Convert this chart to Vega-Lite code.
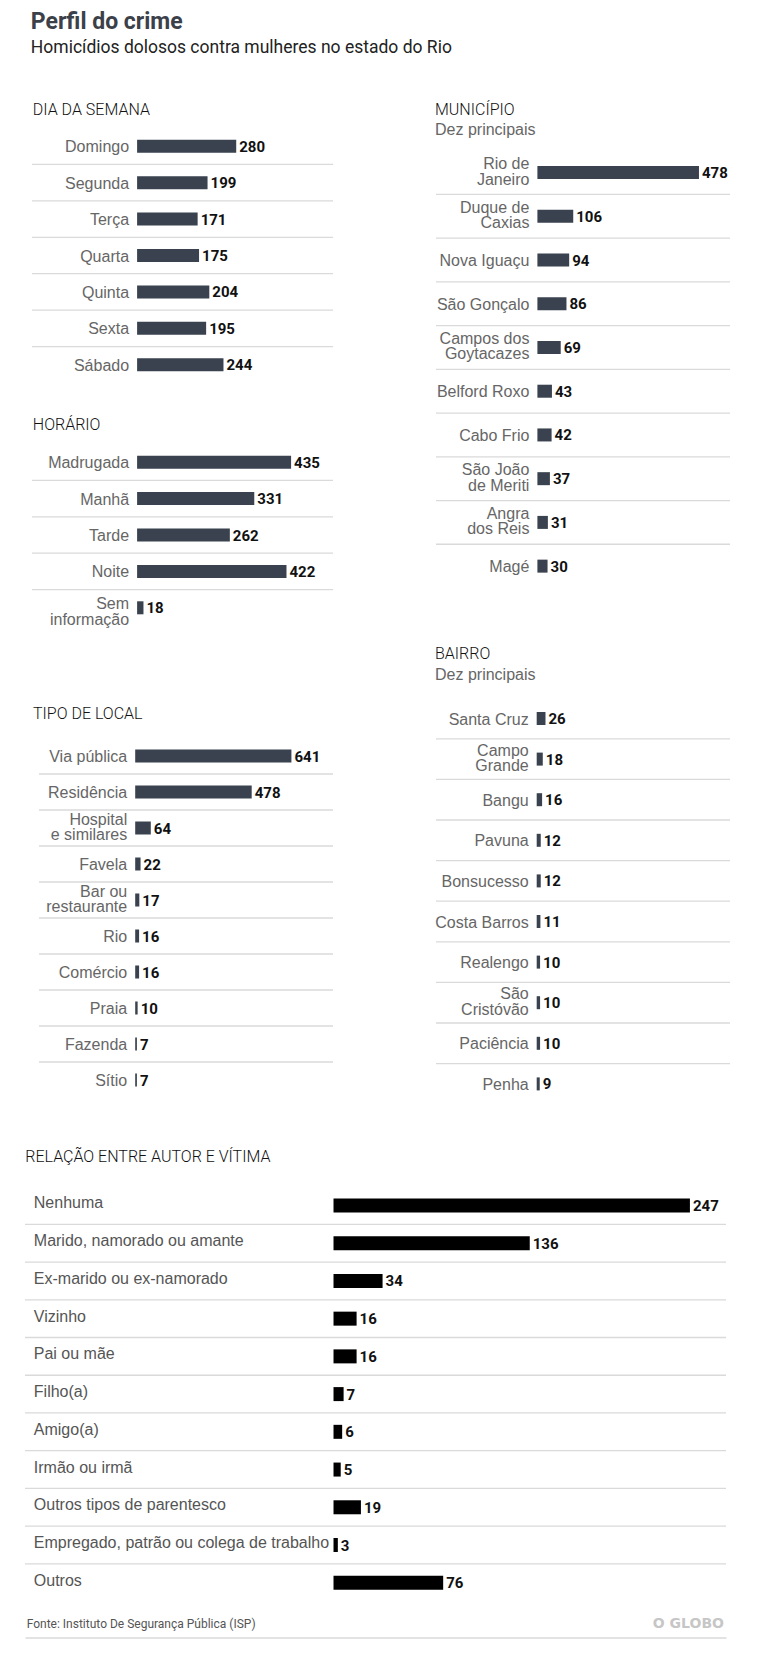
{
  "$schema": "https://vega.github.io/schema/vega-lite/v6.json",
  "background": "white",
  "padding": {"left": 24, "top": 11, "right": 38, "bottom": 16},
  "title": {
    "text": "Perfil do crime",
    "subtitle": "Homicídios dolosos contra mulheres no estado do Rio",
    "anchor": "start", "frame": "bounds", "baseline": "top", "dx": 6.5,
    "font": "Roboto", "fontSize": 23, "fontWeight": "bold", "color": "#3b4049",
    "subtitleFont": "Roboto", "subtitleFontSize": 17.5, "subtitleColor": "#222222",
    "subtitlePadding": 5, "offset": 45.5
  },
  "datasets": {
    "dia": [
      {"label": "Domingo", "valor": 280}, {"label": "Segunda", "valor": 199}, {"label": "Terça", "valor": 171},
      {"label": "Quarta", "valor": 175}, {"label": "Quinta", "valor": 204}, {"label": "Sexta", "valor": 195},
      {"label": "Sábado", "valor": 244}
    ],
    "horario": [
      {"label": "Madrugada", "valor": 435}, {"label": "Manhã", "valor": 331}, {"label": "Tarde", "valor": 262},
      {"label": "Noite", "valor": 422}, {"label": "Sem\ninformação", "valor": 18}
    ],
    "local": [
      {"label": "Via pública", "valor": 641}, {"label": "Residência", "valor": 478}, {"label": "Hospital\ne similares", "valor": 64},
      {"label": "Favela", "valor": 22}, {"label": "Bar ou\nrestaurante", "valor": 17}, {"label": "Rio", "valor": 16},
      {"label": "Comércio", "valor": 16}, {"label": "Praia", "valor": 10}, {"label": "Fazenda", "valor": 7}, {"label": "Sítio", "valor": 7}
    ],
    "municipio": [
      {"label": "Rio de\nJaneiro", "valor": 478}, {"label": "Duque de\nCaxias", "valor": 106}, {"label": "Nova Iguaçu", "valor": 94},
      {"label": "São Gonçalo", "valor": 86}, {"label": "Campos dos\nGoytacazes", "valor": 69}, {"label": "Belford Roxo", "valor": 43},
      {"label": "Cabo Frio", "valor": 42}, {"label": "São João\nde Meriti", "valor": 37}, {"label": "Angra\ndos Reis", "valor": 31},
      {"label": "Magé", "valor": 30}
    ],
    "bairro": [
      {"label": "Santa Cruz", "valor": 26}, {"label": "Campo\nGrande", "valor": 18}, {"label": "Bangu", "valor": 16},
      {"label": "Pavuna", "valor": 12}, {"label": "Bonsucesso", "valor": 12}, {"label": "Costa Barros", "valor": 11},
      {"label": "Realengo", "valor": 10}, {"label": "São\nCristóvão", "valor": 10}, {"label": "Paciência", "valor": 10},
      {"label": "Penha", "valor": 9}
    ],
    "relacao": [
      {"label": "Nenhuma", "valor": 247}, {"label": "Marido, namorado ou amante", "valor": 136},
      {"label": "Ex-marido ou ex-namorado", "valor": 34}, {"label": "Vizinho", "valor": 16}, {"label": "Pai ou mãe", "valor": 16},
      {"label": "Filho(a)", "valor": 7}, {"label": "Amigo(a)", "valor": 6}, {"label": "Irmão ou irmã", "valor": 5},
      {"label": "Outros tipos de parentesco", "valor": 19}, {"label": "Empregado, patrão ou colega de trabalho", "valor": 3},
      {"label": "Outros", "valor": 76}
    ],
    "rodape": [
      {"lado": "esquerda", "texto": "Fonte: Instituto De Segurança Pública (ISP)"},
      {"lado": "direita", "texto": "O GLOBO"}
    ]
  },
  "concat": [
    {
      "concat": [
        {
          "concat": [
            {"width": 1, "height": 1, "data": {"values": []}, "mark": {"type": "point", "opacity": 0}},
            {
              "concat": [
                {
                  "concat": [
                    {
                      "width": 301, "height": 255,
                      "title": {"text": "DIA DA SEMANA", "anchor": "start", "frame": "group", "baseline": "top", "dx": 0.8, "offset": 9.8,
                        "font": "Roboto", "fontSize": 16, "fontWeight": 300, "color": "#111111"},
                      "data": {"name": "dia"},
                      "encoding": {"y": {"field": "label", "type": "nominal", "sort": null, "scale": {"paddingInner": 0, "paddingOuter": 0}, "axis": null}},
                      "layer": [
                        {"transform": [{"filter": "datum.label != 'Sábado'"}],
                         "mark": {"type": "rule", "color": "#dadada", "strokeWidth": 1.3},
                         "encoding": {"y": {"field": "label", "type": "nominal", "sort": null, "bandPosition": 1, "axis": null}}},
                        {"mark": {"type": "bar", "height": 13, "color": "#39424e"},
                         "encoding": {"x": {"field": "valor", "type": "quantitative", "scale": {"domain": [-296.9, 553.4], "nice": false, "zero": false}, "axis": null}}},
                        {"mark": {"type": "text", "align": "right", "baseline": "middle", "dx": -8, "dy": 1, "font": "Liberation Sans", "fontSize": 16, "color": "#666666"},
                         "encoding": {"x": {"datum": 0, "type": "quantitative", "scale": {"domain": [-296.9, 553.4], "nice": false, "zero": false}, "axis": null}, "text": {"field": "label"}}},
                        {"mark": {"type": "text", "align": "left", "baseline": "middle", "dx": 3, "dy": 0.5, "font": "Roboto", "fontWeight": "bold", "fontSize": 15, "color": "#111111"},
                         "encoding": {"x": {"field": "valor", "type": "quantitative", "scale": {"domain": [-296.9, 553.4], "nice": false, "zero": false}, "axis": null}, "text": {"field": "valor", "type": "quantitative"}}}
                      ]
                    },
                    {
                      "width": 301, "height": 182,
                      "title": {"text": "HORÁRIO", "anchor": "start", "frame": "group", "baseline": "top", "dx": 0.8, "offset": 11.25,
                        "font": "Roboto", "fontSize": 16, "fontWeight": 300, "color": "#111111"},
                      "data": {"name": "horario"},
                      "encoding": {"y": {"field": "label", "type": "nominal", "sort": null, "scale": {"paddingInner": 0, "paddingOuter": 0}, "axis": null}},
                      "layer": [
                        {"transform": [{"filter": "indexof(datum.label, 'Sem') < 0"}],
                         "mark": {"type": "rule", "color": "#dadada", "strokeWidth": 1.3},
                         "encoding": {"y": {"field": "label", "type": "nominal", "sort": null, "bandPosition": 1, "axis": null}}},
                        {"mark": {"type": "bar", "height": 13, "color": "#39424e"},
                         "encoding": {"x": {"field": "valor", "type": "quantitative", "scale": {"domain": [-296.9, 553.4], "nice": false, "zero": false}, "axis": null}}},
                        {"transform": [{"filter": "indexof(datum.label, '\\n') < 0"}],
                         "mark": {"type": "text", "align": "right", "baseline": "middle", "dx": -8, "dy": 1, "font": "Liberation Sans", "fontSize": 16, "color": "#666666"},
                         "encoding": {"x": {"datum": 0, "type": "quantitative", "scale": {"domain": [-296.9, 553.4], "nice": false, "zero": false}, "axis": null}, "text": {"field": "label"}}},
                        {"transform": [{"filter": "indexof(datum.label, '\\n') >= 0"}],
                         "mark": {"type": "text", "align": "right", "baseline": "middle", "dx": -8, "dy": -3.5, "font": "Liberation Sans", "fontSize": 16, "color": "#666666", "lineBreak": "\n", "lineHeight": 15.5},
                         "encoding": {"x": {"datum": 0, "type": "quantitative", "scale": {"domain": [-296.9, 553.4], "nice": false, "zero": false}, "axis": null}, "text": {"field": "label"}}},
                        {"mark": {"type": "text", "align": "left", "baseline": "middle", "dx": 3, "dy": 0.5, "font": "Roboto", "fontWeight": "bold", "fontSize": 15, "color": "#111111"},
                         "encoding": {"x": {"field": "valor", "type": "quantitative", "scale": {"domain": [-296.9, 553.4], "nice": false, "zero": false}, "axis": null}, "text": {"field": "valor", "type": "quantitative"}}}
                      ]
                    }
                  ],
                  "columns": 1, "spacing": 33
                },
                {
                  "concat": [
                    {"width": 1, "height": 1, "data": {"values": []}, "mark": {"type": "point", "opacity": 0}},
                    {
                      "width": 294, "height": 360,
                      "title": {"text": "TIPO DE LOCAL", "anchor": "start", "frame": "group", "baseline": "top", "dx": -6, "offset": 15.6,
                        "font": "Roboto", "fontSize": 16, "fontWeight": 300, "color": "#111111"},
                      "data": {"name": "local"},
                      "encoding": {"y": {"field": "label", "type": "nominal", "sort": null, "scale": {"paddingInner": 0, "paddingOuter": 0}, "axis": null}},
                      "layer": [
                        {"transform": [{"filter": "datum.label != 'Sítio'"}],
                         "mark": {"type": "rule", "color": "#dadada", "strokeWidth": 1.3},
                         "encoding": {"y": {"field": "label", "type": "nominal", "sort": null, "bandPosition": 1, "axis": null}}},
                        {"mark": {"type": "bar", "height": 13, "color": "#39424e"},
                         "encoding": {"x": {"field": "valor", "type": "quantitative", "scale": {"domain": [-394.7, 811.6], "nice": false, "zero": false}, "axis": null}}},
                        {"transform": [{"filter": "indexof(datum.label, '\\n') < 0"}],
                         "mark": {"type": "text", "align": "right", "baseline": "middle", "dx": -8, "dy": 1, "font": "Liberation Sans", "fontSize": 16, "color": "#666666"},
                         "encoding": {"x": {"datum": 0, "type": "quantitative", "scale": {"domain": [-394.7, 811.6], "nice": false, "zero": false}, "axis": null}, "text": {"field": "label"}}},
                        {"transform": [{"filter": "indexof(datum.label, '\\n') >= 0"}],
                         "mark": {"type": "text", "align": "right", "baseline": "middle", "dx": -8, "dy": -8.5, "font": "Liberation Sans", "fontSize": 16, "color": "#666666", "lineBreak": "\n", "lineHeight": 15.5},
                         "encoding": {"x": {"datum": 0, "type": "quantitative", "scale": {"domain": [-394.7, 811.6], "nice": false, "zero": false}, "axis": null}, "text": {"field": "label"}}},
                        {"mark": {"type": "text", "align": "left", "baseline": "middle", "dx": 3, "dy": 0.5, "font": "Roboto", "fontWeight": "bold", "fontSize": 15, "color": "#111111"},
                         "encoding": {"x": {"field": "valor", "type": "quantitative", "scale": {"domain": [-394.7, 811.6], "nice": false, "zero": false}, "axis": null}, "text": {"field": "valor", "type": "quantitative"}}}
                      ]
                    }
                  ],
                  "columns": 2, "spacing": 0
                }
              ],
              "columns": 1, "spacing": 78
            }
          ],
          "columns": 2, "spacing": 5
        },
        {
          "concat": [
            {
              "width": 294, "height": 460,
              "title": {"text": "MUNICÍPIO", "subtitle": "Dez principais", "anchor": "start", "frame": "group", "baseline": "top", "dx": -1, "offset": -9.5,
                "font": "Roboto", "fontSize": 16, "fontWeight": 300, "color": "#111111",
                "subtitleFont": "Liberation Sans", "subtitleFontSize": 16, "subtitleColor": "#666666", "subtitlePadding": 3.3},
              "data": {"name": "municipio"},
              "encoding": {"y": {"field": "label", "type": "nominal", "sort": null, "scale": {"paddingInner": 0, "paddingOuter": 0.2596, "align": 1}, "axis": null}},
              "layer": [
                {"transform": [{"filter": "datum.label != 'Magé'"}],
                 "mark": {"type": "rule", "color": "#dadada", "strokeWidth": 1.3},
                 "encoding": {"y": {"field": "label", "type": "nominal", "sort": null, "bandPosition": 1, "axis": null}}},
                {"mark": {"type": "bar", "height": 13, "color": "#39424e"},
                 "encoding": {"x": {"field": "valor", "type": "quantitative", "scale": {"domain": [-300, 569.8], "nice": false, "zero": false}, "axis": null}}},
                {"transform": [{"filter": "indexof(datum.label, '\\n') < 0"}],
                 "mark": {"type": "text", "align": "right", "baseline": "middle", "dx": -8, "dy": 1, "font": "Liberation Sans", "fontSize": 16, "color": "#666666"},
                 "encoding": {"x": {"datum": 0, "type": "quantitative", "scale": {"domain": [-300, 569.8], "nice": false, "zero": false}, "axis": null}, "text": {"field": "label"}}},
                {"transform": [{"filter": "indexof(datum.label, '\\n') >= 0"}],
                 "mark": {"type": "text", "align": "right", "baseline": "middle", "dx": -8, "dy": -8.5, "font": "Liberation Sans", "fontSize": 16, "color": "#666666", "lineBreak": "\n", "lineHeight": 15.5},
                 "encoding": {"x": {"datum": 0, "type": "quantitative", "scale": {"domain": [-300, 569.8], "nice": false, "zero": false}, "axis": null}, "text": {"field": "label"}}},
                {"mark": {"type": "text", "align": "left", "baseline": "middle", "dx": 3, "dy": 0.5, "font": "Roboto", "fontWeight": "bold", "fontSize": 15, "color": "#111111"},
                 "encoding": {"x": {"field": "valor", "type": "quantitative", "scale": {"domain": [-300, 569.8], "nice": false, "zero": false}, "axis": null}, "text": {"field": "valor", "type": "quantitative"}}}
              ]
            },
            {
              "width": 294, "height": 406,
              "title": {"text": "BAIRRO", "subtitle": "Dez principais", "anchor": "start", "frame": "group", "baseline": "top", "dx": -1, "offset": 15,
                "font": "Roboto", "fontSize": 16, "fontWeight": 300, "color": "#111111",
                "subtitleFont": "Liberation Sans", "subtitleFontSize": 16, "subtitleColor": "#666666", "subtitlePadding": 5},
              "data": {"name": "bairro"},
              "encoding": {"y": {"field": "label", "type": "nominal", "sort": null, "scale": {"paddingInner": 0, "paddingOuter": 0}, "axis": null}},
              "layer": [
                {"transform": [{"filter": "datum.label != 'Penha'"}],
                 "mark": {"type": "rule", "color": "#dadada", "strokeWidth": 1.3},
                 "encoding": {"y": {"field": "label", "type": "nominal", "sort": null, "bandPosition": 1, "axis": null}}},
                {"mark": {"type": "bar", "height": 13, "color": "#39424e"},
                 "encoding": {"x": {"field": "valor", "type": "quantitative", "scale": {"domain": [-297.9, 571.9], "nice": false, "zero": false}, "axis": null}}},
                {"transform": [{"filter": "indexof(datum.label, '\\n') < 0"}],
                 "mark": {"type": "text", "align": "right", "baseline": "middle", "dx": -8, "dy": 1, "font": "Liberation Sans", "fontSize": 16, "color": "#666666"},
                 "encoding": {"x": {"datum": 0, "type": "quantitative", "scale": {"domain": [-297.9, 571.9], "nice": false, "zero": false}, "axis": null}, "text": {"field": "label"}}},
                {"transform": [{"filter": "indexof(datum.label, '\\n') >= 0"}],
                 "mark": {"type": "text", "align": "right", "baseline": "middle", "dx": -8, "dy": -8.5, "font": "Liberation Sans", "fontSize": 16, "color": "#666666", "lineBreak": "\n", "lineHeight": 15.5},
                 "encoding": {"x": {"datum": 0, "type": "quantitative", "scale": {"domain": [-297.9, 571.9], "nice": false, "zero": false}, "axis": null}, "text": {"field": "label"}}},
                {"mark": {"type": "text", "align": "left", "baseline": "middle", "dx": 3, "dy": 0.5, "font": "Roboto", "fontWeight": "bold", "fontSize": 15, "color": "#111111"},
                 "encoding": {"x": {"field": "valor", "type": "quantitative", "scale": {"domain": [-297.9, 571.9], "nice": false, "zero": false}, "axis": null}, "text": {"field": "valor", "type": "quantitative"}}}
              ]
            }
          ],
          "columns": 1, "spacing": 58.2
        }
      ],
      "columns": 2, "spacing": 101
    },
    {
      "concat": [
        {
          "width": 701, "height": 415,
          "title": {"text": "RELAÇÃO ENTRE AUTOR E VÍTIMA", "anchor": "start", "frame": "group", "baseline": "top", "dx": 0.3, "offset": 21.7,
            "font": "Roboto", "fontSize": 16, "fontWeight": 300, "color": "#111111"},
          "data": {"name": "relacao"},
          "encoding": {"y": {"field": "label", "type": "nominal", "sort": null, "scale": {"paddingInner": 0, "paddingOuter": 0},
            "axis": {"title": null, "ticks": false, "domain": false, "grid": false, "labelAlign": "left", "labelBaseline": "middle", "labelPadding": -8.3,
              "labelFont": "Liberation Sans", "labelFontSize": 16, "labelColor": "#555555", "labelOffset": -2, "labelLimit": 0, "labelOverlap": false,
              "minExtent": 0, "maxExtent": 0}}},
          "layer": [
            {"transform": [{"filter": "datum.label != 'Outros'"}],
             "mark": {"type": "rule", "color": "#dadada", "strokeWidth": 1.3},
             "encoding": {"y": {"field": "label", "type": "nominal", "sort": null, "bandPosition": 1,
               "axis": {"title": null, "ticks": false, "domain": false, "grid": false, "labelAlign": "left", "labelBaseline": "middle", "labelPadding": -8.3,
                 "labelFont": "Liberation Sans", "labelFontSize": 16, "labelColor": "#555555", "labelOffset": -2, "labelLimit": 0, "labelOverlap": false,
                 "minExtent": 0, "maxExtent": 0}}}},
            {"mark": {"type": "bar", "height": 14, "color": "#000000"},
             "encoding": {"x": {"field": "valor", "type": "quantitative", "scale": {"domain": [-213.8, 272], "nice": false, "zero": false}, "axis": null}}},
            {"mark": {"type": "text", "align": "left", "baseline": "middle", "dx": 3, "dy": 0.5, "font": "Roboto", "fontWeight": "bold", "fontSize": 15, "color": "#111111"},
             "encoding": {"x": {"field": "valor", "type": "quantitative", "scale": {"domain": [-213.8, 272], "nice": false, "zero": false}, "axis": null}, "text": {"field": "valor", "type": "quantitative"}}}
          ]
        },
        {
          "width": 701, "height": 27,
          "data": {"name": "rodape"},
          "encoding": {
            "x": {"field": "lado", "type": "nominal", "sort": null, "scale": {"type": "point", "padding": 0, "domain": ["esquerda", "direita"]},
              "axis": {"domain": true, "domainColor": "#dadada", "domainWidth": 1.3, "ticks": false, "labels": false, "title": null, "grid": false}},
            "text": {"field": "texto"}
          },
          "layer": [
            {"transform": [{"filter": "datum.lado == 'esquerda'"}],
             "mark": {"type": "text", "align": "left", "baseline": "middle", "dx": 1.7, "font": "Roboto", "fontSize": 12, "color": "#555555"}},
            {"transform": [{"filter": "datum.lado == 'direita'"}],
             "mark": {"type": "text", "align": "right", "baseline": "middle", "dx": -2, "font": "DejaVu Sans", "fontWeight": "bold", "fontSize": 14, "color": "#c6c6c6"}}
          ]
        }
      ],
      "columns": 1, "spacing": 8.9
    }
  ],
  "columns": 1,
  "spacing": 43.6,
  "config": {"view": {"stroke": null}, "font": "Liberation Sans"}
}
